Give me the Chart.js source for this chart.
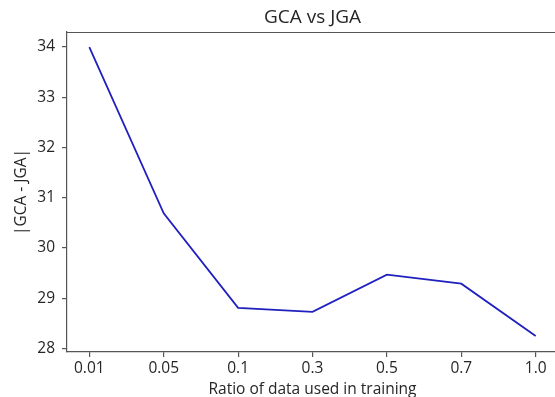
<!DOCTYPE html>
<html>
<head>
<meta charset="utf-8">
<script src="https://cdn.jsdelivr.net/npm/chart.js@4.4.1/dist/chart.umd.min.js"></script>
<style>
  html, body { margin: 0; padding: 0; background: #fff; overflow: hidden; }
  #wrap { width: 570px; height: 397px; }
</style>
</head>
<body>
<div id="wrap"><canvas id="c" width="570" height="397"></canvas></div>
<script>
// Ratio of training data used, and the gap |GCA - JGA| at each ratio
const ratios = ['0.01', '0.05', '0.1', '0.3', '0.5', '0.7', '1.0'];
const gapValues = [34.0, 30.69, 28.81, 28.73, 29.47, 29.29, 28.25];
const yTickValues = [28, 29, 30, 31, 32, 33, 34];

const FONT = "'Open Sans', 'DejaVu Sans', sans-serif";
const TEXT = '#262626';
const SPINE = '#555555';
const LABEL_SIZE = 15.5;

// Top frame line so the plot box is closed like a matplotlib axes
const frameTop = {
  id: 'frameTop',
  afterDraw(chart) {
    const { ctx, chartArea } = chart;
    ctx.save();
    ctx.strokeStyle = SPINE;
    ctx.lineWidth = 1.2;
    ctx.beginPath();
    ctx.moveTo(chartArea.left, chartArea.top + 0.5);
    ctx.lineTo(chartArea.right, chartArea.top + 0.5);
    ctx.stroke();
    ctx.restore();
  }
};

new Chart(document.getElementById('c'), {
  type: 'line',
  data: {
    datasets: [{
      data: gapValues.map((v, i) => ({ x: i, y: v })),
      borderColor: 'rgb(32,32,190)',
      borderWidth: 1.8,
      pointRadius: 0,
      tension: 0,
      fill: false
    }]
  },
  options: {
    responsive: false,
    animation: false,
    layout: { padding: { left: 0, right: 12, top: 0, bottom: 0 } },
    plugins: {
      legend: { display: false },
      tooltip: { enabled: false },
      title: {
        display: true,
        text: 'GCA vs JGA',
        fullSize: false,
        color: TEXT,
        font: { family: FONT, size: 19, weight: 'normal' },
        padding: { top: 6.5, bottom: 2.7 }
      }
    },
    scales: {
      x: {
        type: 'linear',
        min: -0.3,
        max: 6.3,
        afterBuildTicks(s) { s.ticks = ratios.map((_, i) => ({ value: i })); },
        afterFit(s) { s.height = 45; },
        ticks: {
          autoSkip: false,
          maxRotation: 0,
          padding: 2.5,
          color: TEXT,
          font: { family: FONT, size: LABEL_SIZE },
          callback: (v) => ratios[v]
        },
        grid: { drawOnChartArea: false, tickLength: 5, color: SPINE, lineWidth: 1.2 },
        border: { display: true, color: SPINE, width: 1.2 },
        title: {
          display: true,
          text: 'Ratio of data used in training',
          color: TEXT,
          font: { family: FONT, size: LABEL_SIZE },
          padding: { top: 0, bottom: -2 }
        }
      },
      y: {
        type: 'linear',
        min: 27.93,
        max: 34.3,
        afterBuildTicks(s) { s.ticks = yTickValues.map(v => ({ value: v })); },
        afterFit(s) { s.width = 67; },
        ticks: {
          padding: 7,
          color: TEXT,
          font: { family: FONT, size: LABEL_SIZE }
        },
        grid: { drawOnChartArea: false, tickLength: 5, color: SPINE, lineWidth: 1.2 },
        border: { display: true, color: SPINE, width: 1.2 },
        title: {
          display: true,
          text: '|GCA - JGA|',
          color: TEXT,
          font: { family: FONT, size: LABEL_SIZE },
          padding: { top: 12, bottom: 0 }
        }
      }
    }
  },
  plugins: [frameTop]
});
</script>
</body>
</html>
